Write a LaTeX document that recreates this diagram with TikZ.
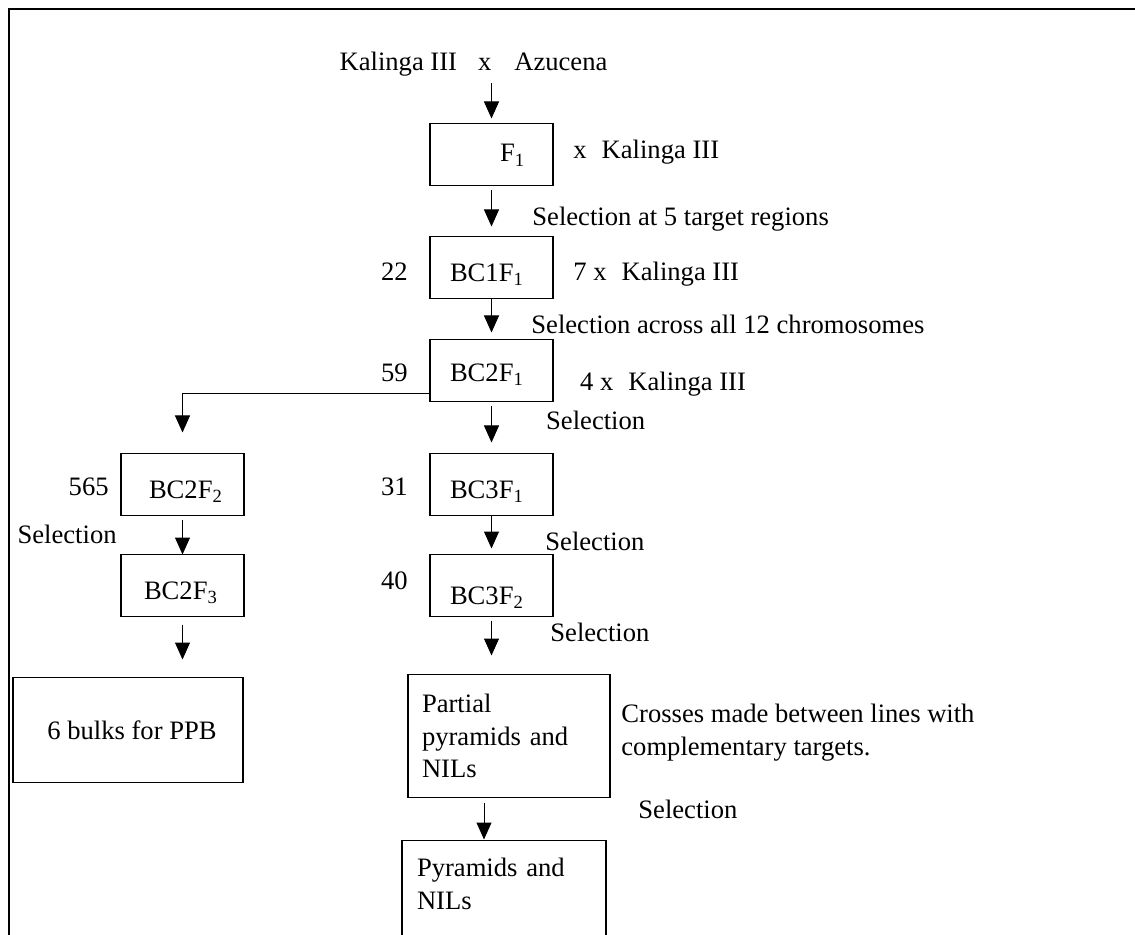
\documentclass[tikz,border=0pt]{standalone}
\usepackage{fontspec}
\setmainfont{Liberation Serif}
\usepackage{tikz}
\usetikzlibrary{positioning,arrows.meta}

\begin{document}
\begin{tikzpicture}[x=0.5pt, y=-0.5pt, >={Triangle[length=8.5pt,width=7.5pt]}, font=\fontsize{13.3pt}{16.3pt}\selectfont]
            \tikzstyle{gen} = [draw, line width=0.6pt, outer sep=0pt, minimum height=31pt, text width=41.5pt, inner xsep=10pt, inner ysep=0pt, align=left, text height=14pt, text depth=0.2pt];
            \tikzstyle{big} = [draw, line width=0.6pt, outer sep=0pt];
            \tikzstyle{lbl} = [inner sep=0pt];
            \tikzstyle{arr} = [->, line width=0.5pt];
            \useasboundingbox (0,0) rectangle (1135,935);
            \clip (0,0) rectangle (1135,935);
            \draw [line width=0.7pt] (9,935) -- (9,9) -- (1135,9);

            \node [lbl] (P0) at (473.5,64.5) {Kalinga III\hspace{10.5pt}x\hspace{11.5pt}Azucena};

            \node [gen, text height=7.5pt] (F1) at (491.5,154.5) {\hspace*{25pt}F\textsubscript{1}};
            \node [gen, below = 25.5pt of F1] (BC1) {BC1F\textsubscript{1}};
            \node [gen, below = 20.5pt of BC1, text height=11pt] (BC2) {BC2F\textsubscript{1}};
            \node [gen, below = 26pt of BC2] (BC31) {BC3F\textsubscript{1}};
            \node [gen, below = 19.5pt of BC31, text height=19pt] (BC32) {BC3F\textsubscript{2}};
            \node [gen, left = 93pt of BC31] (BC22) {\hspace*{4pt}BC2F\textsubscript{2}};
            \node [gen, below = 19.5pt of BC22] (BC23) {\hspace*{1.5pt}BC2F\textsubscript{3}};

            \node [big, minimum width=115pt, minimum height=52.5pt, below right = 30.5pt and -54pt of BC23.south west] (Bulk) {\hspace*{4pt}6 bulks for PPB};
            \node [big, text width=87pt, inner xsep=7pt, inner ysep=0pt, minimum height=61.5pt, align=left, below right = 29pt and -11pt of BC32.south west] (Part) {Partial\\pyramids and\\NILs};
            \node [big, text width=87pt, inner xsep=7.5pt, inner ysep=8.9pt, text depth=60pt, align=left, below right = 21.5pt and -3pt of Part.south west] (Pyr) {Pyramids and\\NILs};

            \node [lbl, right = 10pt of F1, yshift=1pt] (XK1) {x\hspace{7.5pt}Kalinga III};
            \node [lbl, right = 10pt of BC1, yshift=-3.3pt] (XK2) {7 x\hspace{7.5pt}Kalinga III};
            \node [lbl, right = 13.4pt of BC2, yshift=-6.8pt] (XK3) {4 x\hspace{7.5pt}Kalinga III};

            \node [lbl, left = 11pt of BC1, yshift=-2pt] (N22) {22};
            \node [lbl, left = 11pt of BC2, yshift=-1pt] (N59) {59};
            \node [lbl, left = 11pt of BC31, yshift=-1.25pt] (N31) {31};
            \node [lbl, left = 11pt of BC32, yshift=2.25pt] (N40) {40};
            \node [lbl, left = 6pt of BC22, yshift=-1.25pt] (N565) {565};

            \node [lbl, below right = 10.8pt and -10.5pt of F1.south east] (S1) {Selection at 5 target regions};
            \node [lbl, below right = 8.3pt and -11pt of BC1.south east] (S2) {Selection across all 12 chromosomes};
            \node [lbl, below right = 4.8pt and -3.6pt of BC2.south east] (S3) {Selection};
            \node [lbl, below right = 8.3pt and -4pt of BC31.south east] (S4) {Selection};
            \node [lbl, below right = 3.3pt and -1.5pt of BC32.south east] (S5) {Selection};
            \node [lbl, below left = 4.8pt and 2pt of BC22.south west] (S6) {Selection};
            \node [lbl, below right = 1.3pt and 14pt of Part.south east] (S7) {Selection};
            \node [lbl, align=left, below right = 14.8pt and 5.5pt of Part.north east] (CX) {Crosses made between lines with\\complementary targets.};

            \draw [arr, shorten <=3.2pt, shorten >=2.5pt] (P0.south -| F1.north) -- (F1.north);
            \draw [arr, shorten <=2.5pt, shorten >=5pt] (F1) -- (BC1);
            \draw [arr, shorten >=3.5pt] (BC1) -- (BC2);
            \draw [arr, shorten <=2.5pt, shorten >=5.5pt] (BC2) -- (BC31);
            \draw [arr, shorten >=3pt] (BC31) -- (BC32);
            \draw [arr, shorten <=2pt, shorten >=9.5pt] (BC32.south) -- (BC32.south |- Part.north);
            \draw [arr, shorten <=2.5pt, shorten >=0.5pt] ([xshift=-12.5pt]Part.south) -- ([xshift=-12.5pt]Part.south |- Pyr.north);
            \draw [arr, shorten >=10.5pt] ([yshift=4pt]BC2.south west) -| (BC22.north);
            \draw [arr, shorten <=2pt] (BC22) -- (BC23);
            \draw [arr, shorten <=4pt, shorten >=9pt] (BC23.south) -- (BC23.south |- Bulk.north);
        \end{tikzpicture}
\end{document}
